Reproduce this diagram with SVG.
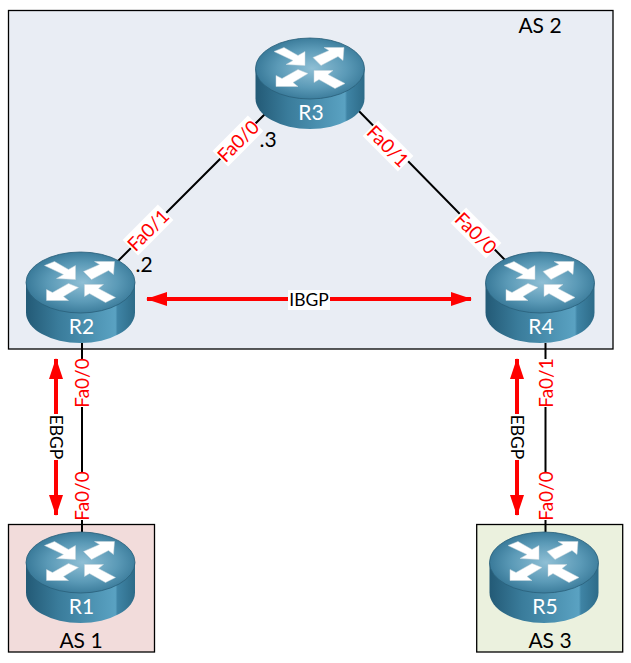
<svg xmlns="http://www.w3.org/2000/svg" width="631" height="663" viewBox="0 0 631 663">
<style>
.box{stroke:#000;stroke-width:1.3}
.link{stroke:#000;stroke-width:2;fill:none}
.bgp{stroke:#f00;stroke-width:4;fill:none;marker-start:url(#ah);marker-end:url(#ah)}
.lb{fill:#fff}
text{font-family:Lato,"Open Sans",sans-serif}
.port{fill:#f00;font-size:19px;text-anchor:middle}
.blk{fill:#000;font-size:17.500px;text-anchor:middle}
.as{fill:#000;font-size:21px;text-anchor:middle}
.rn{fill:#fff;font-size:21px;text-anchor:middle}
</style>
<defs>
<radialGradient id="top" cx=".52" cy=".5" r=".58"><stop offset="0" stop-color="#8fbfd5"/><stop offset=".55" stop-color="#5b9ab7"/><stop offset="1" stop-color="#2f7090"/></radialGradient>
<linearGradient id="side" x1="0" x2="1" y1="0" y2="0"><stop offset="0" stop-color="#235a76"/><stop offset=".3" stop-color="#3a7c9b"/><stop offset=".82" stop-color="#5aa2c2"/><stop offset=".84" stop-color="#3f84a5"/><stop offset="1" stop-color="#2d6b88"/></linearGradient>
<marker id="ah" viewBox="0 0 21 14" refX="20" refY="7" markerWidth="21" markerHeight="14" markerUnits="userSpaceOnUse" orient="auto-start-reverse"><path d="M0 0L21 7L0 14Z" fill="#f00"/></marker>
<g id="router">
<path d="M-54.500 0V30A54.500 30.500 0 0 0 54.500 30V0Z" fill="url(#side)"/>
<ellipse rx="54.500" ry="30.500" fill="url(#top)" stroke="#2a5f7a" stroke-width=".8"/>
<path fill="#fff" stroke="#c9d6dc" stroke-width=".5" d="M3-11L19-18L14-21L34-21L33-8L28-12L11-3Z M-36-17L-26-21L-12-13L-5-17L-5-3L-24-4L-17-8Z M-34 18L-34 7L-28 10L-12 1L-2 5L-17 14L-12 18Z M4 2L23 2L18 6L35 15L25 20L9 11L4 14Z"/>
</g>
</defs>
<rect id="as2" class="box" x="8.500" y="10.500" width="604.500" height="338.500" fill="#e9edf4"/>
<rect id="as1" class="box" x="8.500" y="524.500" width="146" height="127.500" fill="#f2dcdb"/>
<rect id="as3" class="box" x="476.700" y="524.500" width="146" height="127.500" fill="#ebf1de"/>
<g id="connectors">
<path class="link" d="M112 267L270 109M352 104L505 260M82 343V532M545.500 343V532"/>
<path class="bgp" d="M147 299H471"/>
<path class="bgp" d="M56 359V515"/>
<path class="bgp" d="M517 359V515"/>
</g>
<g id="R3"><use href="#router" x="310" y="68.500"/><text class="rn" x="311" y="120">R3</text></g>
<g id="R2"><use href="#router" x="80.500" y="282.500"/><text class="rn" x="81.500" y="334">R2</text></g>
<g id="R4"><use href="#router" x="540" y="282.500"/><text class="rn" x="541" y="334">R4</text></g>
<g id="R1"><use href="#router" x="80.500" y="562.500"/><text class="rn" x="81.500" y="614">R1</text></g>
<g id="R5"><use href="#router" x="544" y="562.500"/><text class="rn" x="545" y="614">R5</text></g>
<g id="labels">
<g transform="translate(238 141) rotate(-45)"><rect class="lb" x="-25" y="-11" width="50" height="22"/><text class="port" y="7">Fa0/0</text></g>
<g transform="translate(148 230) rotate(-45)"><rect class="lb" x="-25" y="-11" width="50" height="22"/><text class="port" y="7">Fa0/1</text></g>
<g transform="translate(388 146) rotate(45)"><rect class="lb" x="-25" y="-11" width="50" height="22"/><text class="port" y="7">Fa0/1</text></g>
<g transform="translate(476 233) rotate(45)"><rect class="lb" x="-25" y="-11" width="50" height="22"/><text class="port" y="7">Fa0/0</text></g>
<g transform="translate(82 383) rotate(-90)"><rect class="lb" x="-24" y="-9" width="48" height="18"/><text class="port" y="7">Fa0/0</text></g>
<g transform="translate(82 496) rotate(-90)"><rect class="lb" x="-24" y="-9" width="48" height="18"/><text class="port" y="7">Fa0/0</text></g>
<g transform="translate(545.500 383) rotate(-90)"><rect class="lb" x="-24" y="-9" width="48" height="18"/><text class="port" y="7">Fa0/1</text></g>
<g transform="translate(545.500 496) rotate(-90)"><rect class="lb" x="-24" y="-9" width="48" height="18"/><text class="port" y="7">Fa0/0</text></g>
<rect class="lb" x="288" y="290" width="42" height="20"/><text class="blk" x="309" y="305.500">IBGP</text>
<g transform="translate(56 437) rotate(90)"><rect class="lb" x="-23" y="-9" width="46" height="18"/><text class="blk" y="6">EBGP</text></g>
<g transform="translate(517 437) rotate(90)"><rect class="lb" x="-23" y="-9" width="46" height="18"/><text class="blk" y="6">EBGP</text></g>
<text class="as" x="144" y="272">.2</text>
<text class="as" x="268" y="147">.3</text>
<text class="as" x="540" y="33">AS 2</text>
<text class="as" x="81" y="648">AS 1</text>
<text class="as" x="550" y="648">AS 3</text>
</g>
</svg>
